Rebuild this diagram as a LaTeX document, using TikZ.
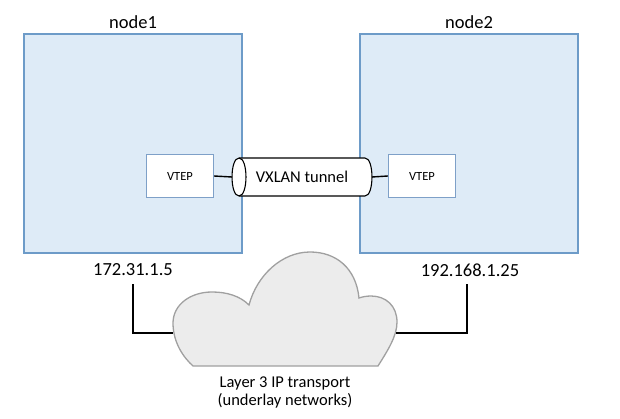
\documentclass[tikz,border=0pt]{standalone}
\usepackage{fontspec}
\setmainfont{Carlito}
\definecolor{boxfill}{RGB}{222,235,247}
\definecolor{boxline}{RGB}{109,155,200}
\definecolor{vtepline}{RGB}{126,160,200}
\definecolor{cloudfill}{RGB}{236,236,236}
\definecolor{cloudline}{RGB}{160,160,160}
\begin{document}
\begin{tikzpicture}[x=1pt,y=-1pt,
  hostbox/.style={draw=boxline,fill=boxfill,line width=1.3pt,minimum width=218pt,minimum height=219pt,inner sep=0pt},
  vtepbox/.style={draw=vtepline,fill=white,line width=1.1pt,minimum width=67pt,minimum height=43pt,inner sep=0pt,font=\fontsize{12.5}{14}\selectfont},
  biglabel/.style={font=\fontsize{18.5}{20}\selectfont,inner sep=0pt},
  wire/.style={draw=black,line width=1.4pt}]
\useasboundingbox (0,0) rectangle (620,419);
% hosts
\node[hostbox] (n1) at (133,143.5) {};
\node[hostbox] (n2) at (469,143.5) {};
\node[biglabel] (l1) at (133,22) {node1};
\node[biglabel] (l2) at (469,22) {node2};
% VTEPs
\node[vtepbox] (v1) at (180,176) {VTEP};
\node[vtepbox] (v2) at (422,176) {VTEP};
% tunnel (cylinder)
\coordinate (tl) at (232,177);
\coordinate (tr) at (372,177);
\draw[black,line width=1.1pt,fill=white]
  (239,158) -- (365,158) .. controls (374.3,158) and (374.3,196) .. (365,196)
  -- (239,196) .. controls (229.7,196) and (229.7,158) .. (239,158) -- cycle;
\draw[black,line width=1.1pt] (239,158) .. controls (248.3,158) and (248.3,196) .. (239,196);
\node[font=\fontsize{16.5}{18}\selectfont,inner sep=0pt] (tun) at (302,177) {VXLAN tunnel};
\draw[wire] (v1.east) -- (tl);
\draw[wire] (tr) -- (v2.west);
% IP labels
\node[biglabel] (ip1) at (133,270) {172.31.1.5};
\node[biglabel] (ip2) at (470,270) {192.168.1.25};
% cloud
\draw[draw=cloudline,fill=cloudfill,line width=1.3pt]
  (193,366) -- (378,366)
  .. controls (388,350) and (397,336) .. (397,322)
  .. controls (397,306) and (386,296) .. (371,296)
  .. controls (366,296) and (362,297) .. (359,298)
  .. controls (356,268) and (336,252) .. (310,252)
  .. controls (282,252) and (257,275) .. (249,305)
  .. controls (240,296) and (227,292) .. (212,292)
  .. controls (190,292) and (173,305) .. (173,323)
  .. controls (173,343) and (184,358) .. (193,366) -- cycle;
\coordinate (cl) at (173,333);
\coordinate (cr) at (396,333);
\node[font=\fontsize{16.5}{18}\selectfont,align=center,inner sep=0pt] (lay) at (285,392) {Layer 3 IP transport\\(underlay networks)};
% underlay connectors
\coordinate (p1) at (133,284);
\coordinate (p2) at (467,284);
\draw[wire] (p1) |- (cl);
\draw[wire] (cr) -| (p2);
\end{tikzpicture}
\end{document}
